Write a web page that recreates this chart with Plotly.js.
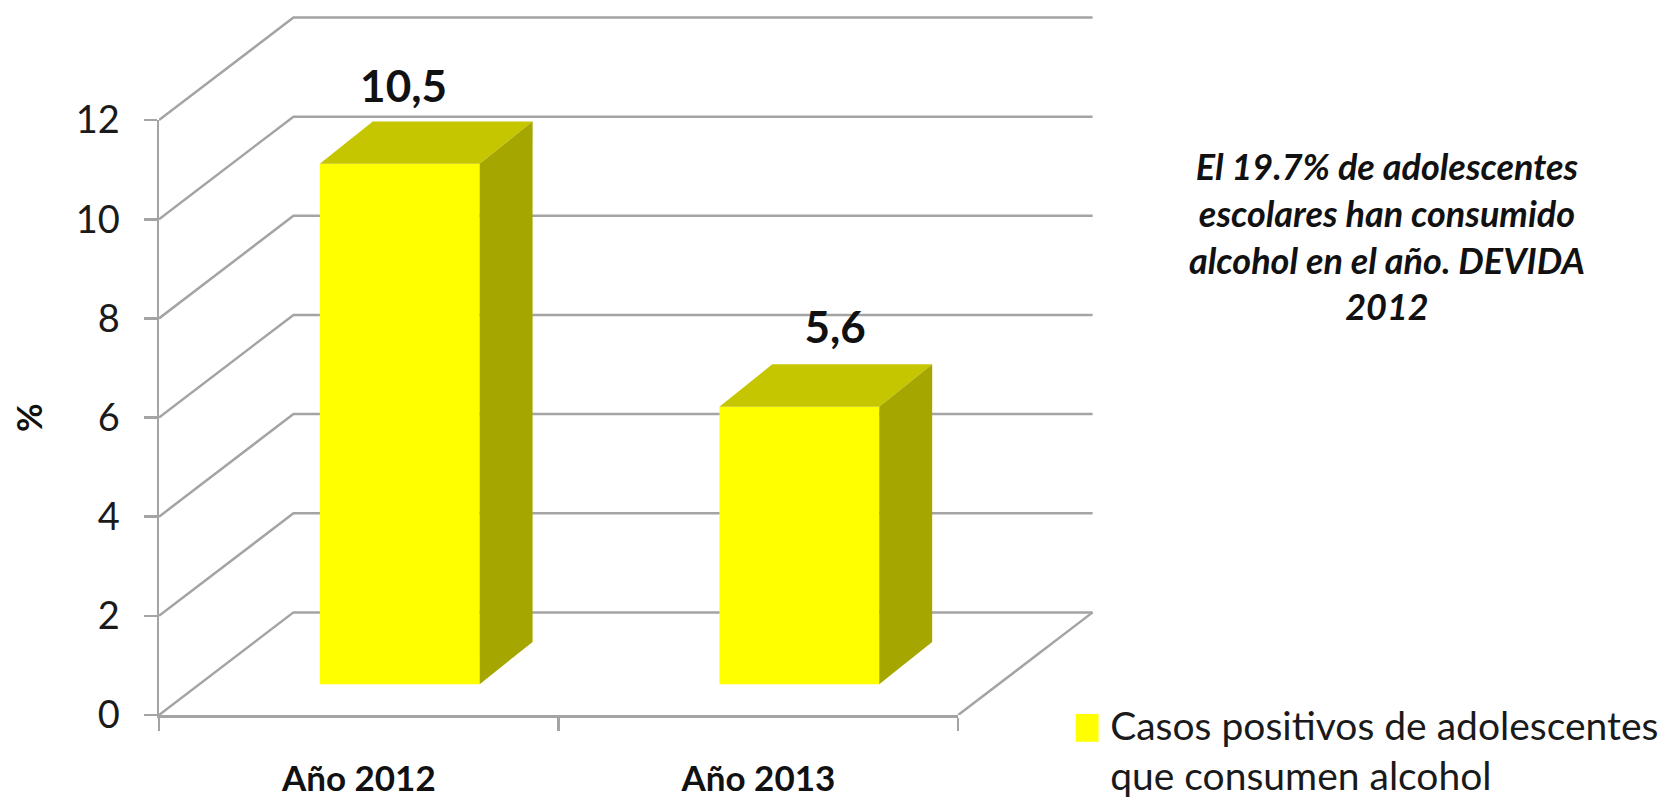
<!DOCTYPE html>
<html><head><meta charset="utf-8">
<script src="https://cdn.plot.ly/plotly-3.0.1.min.js"></script>
<style>html,body{margin:0;padding:0;background:#fff}#c{width:1660px;height:799px}</style>
</head><body><div id="c"></div>
<script>
const categories = ['Año 2012', 'Año 2013'];
const values = [10.5, 5.6];
const yTicks = [0, 2, 4, 6, 8, 10, 12];
const seriesName = 'Casos positivos de adolescentes<br>que consumen alcohol';
const note = '<i><b>El 19.7% de adolescentes<br>escolares han consumido<br>alcohol en el año. DEVIDA<br>2012</b></i>';

const FONT = 'Lato, sans-serif';
const GRID = '#a4a4a4';
const TOP = '#c6c600', SIDE = '#a6a600', FRONT = '#ffff00';
// perspective offsets in axis units
const wallDx = 0.3365, wallDy = 2.07;
const barDx = 0.1325, barDy = 0.854;
const barBase = 0.62, barWidth = 0.4, barShift = 0.6025;
const labelX = [0.612, 1.692], labelDy = [2.08, 2.13];
const xMax = 2.34, yMax = 14.1;

const traces = [];
// back wall and side wall: hidden full-size axes x/y, same scale as the visible axes
function line(xs, ys) {
  traces.push({type:'scatter', mode:'lines', x:xs, y:ys, xaxis:'x', yaxis:'y',
    line:{color:GRID, width:2.5}, showlegend:false, hoverinfo:'skip'});
}
yTicks.forEach(k => {
  line([0, wallDx, 2 + wallDx], [k, k + wallDy, k + wallDy]);
});
line([2, 2 + wallDx], [0, wallDy]);

traces.push({type:'scatter', mode:'text', x:labelX, y:values.map((v, i) => v + labelDy[i]),
  text:values.map(v => '<b>' + String(v).replace('.', ',') + '</b>'), textposition:'middle center',
  textfont:{family:FONT, size:44, color:'#111'}, xaxis:'x', yaxis:'y', showlegend:false, hoverinfo:'skip'});

// bars: visible axes x2/y2
const centers = categories.map((c, i) => i + barShift);
traces.push({type:'bar', name:seriesName, x:centers, y:values, base:barBase, width:barWidth,
  xaxis:'x2', yaxis:'y2', marker:{color:FRONT, line:{width:0}}, showlegend:true, hoverinfo:'skip'});

function poly(xs, ys, color) {
  traces.push({type:'scatter', mode:'lines', x:xs, y:ys, xaxis:'x2', yaxis:'y2', fill:'toself', fillcolor:color,
    line:{width:0, color:color}, showlegend:false, hoverinfo:'skip'});
}
values.forEach((v, i) => {
  const l = centers[i] - barWidth / 2, r = centers[i] + barWidth / 2, t = barBase + v;
  poly([l, l + barDx, r + barDx, r, l], [t, t + barDy, t + barDy, t, t], TOP);
  poly([r, r + barDx, r + barDx, r, r], [barBase, barBase + barDy, t + barDy, t, barBase], SIDE);
});

const layout = {
  width:1660, height:799, paper_bgcolor:'#fff', plot_bgcolor:'rgba(0,0,0,0)',
  margin:{l:159, r:566, t:15.6, b:84.4, pad:0, autoexpand:false},
  font:{family:FONT, color:'#1a1a1a'},
  xaxis:{range:[0,xMax], domain:[0,1], visible:false, fixedrange:true, anchor:'y'},
  yaxis:{range:[0,yMax], domain:[0,1], visible:false, fixedrange:true, anchor:'x'},
  xaxis2:{range:[0,2], domain:[0,2/xMax], anchor:'y2', fixedrange:true, showgrid:false, zeroline:false, showline:true, linecolor:GRID, linewidth:2.5,
    tickmode:'array', tickvals:[0.5,1.5], ticktext:categories.map(c => '<b>' + c + '</b>'), ticks:'', ticklabelstandoff:31,
    tickfont:{family:FONT, size:35, color:'#111'},
    minor:{tickmode:'array', tickvals:[0,1,2], ticks:'outside', ticklen:13, tickwidth:2.5, tickcolor:GRID, showgrid:false}},
  yaxis2:{range:[0,12], domain:[0,12/yMax], anchor:'x2', fixedrange:true, showgrid:false, zeroline:false, showline:true, linecolor:GRID, linewidth:2.5,
    tickmode:'array', tickvals:yTicks, ticks:'outside', ticklen:13, tickwidth:2.5, tickcolor:GRID, ticklabelstandoff:16,
    tickfont:{family:FONT, size:38, color:'#1a1a1a'},
    title:{text:'<b>%</b>', standoff:23, font:{family:FONT, size:35, color:'#111'}}},
  showlegend:true,
  legend:{x:0.9745, y:0.032, xanchor:'left', yanchor:'top', bgcolor:'rgba(0,0,0,0)', borderwidth:0,
    font:{family:FONT, size:39, color:'#1a1a1a'}},
  annotations:[{xref:'paper', yref:'paper', x:1.313, y:0.685, xanchor:'center', yanchor:'middle', align:'center', showarrow:false,
    text:note, font:{family:FONT, size:36, color:'#111'}}]
};
Plotly.newPlot('c', traces, layout, {displayModeBar:false, staticPlot:true}).then(() => {
  const swatch = document.querySelector('.legendbar path') || document.querySelector('.legendpoints path');
  if (swatch) swatch.setAttribute('transform', 'translate(17,-22) scale(1.9,2.3)');
});
</script></body></html>
